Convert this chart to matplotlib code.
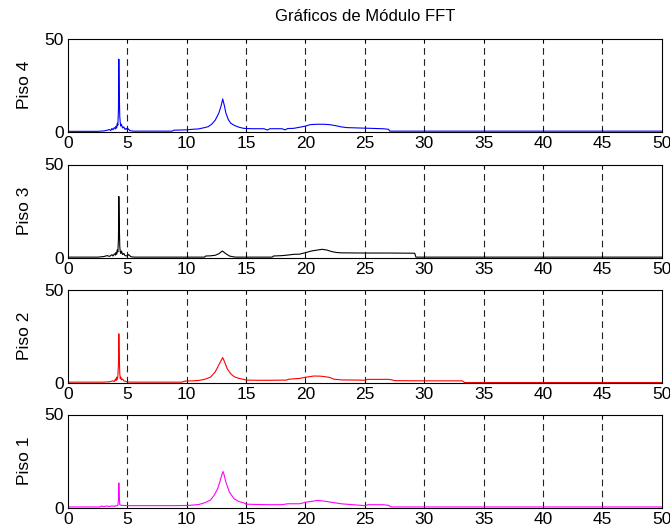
import matplotlib
matplotlib.use("Agg")
import matplotlib.pyplot as plt

plt.rcParams['font.family'] = ['Liberation Sans', 'DejaVu Sans']

title = "Gráficos de Módulo FFT"
labels = ["Piso 4", "Piso 3", "Piso 2", "Piso 1"]
colors = ["#0000ff", "#000000", "#ff0000", "#ff00ff"]
xticks = list(range(0, 51, 5))
yticks = [0, 50]

# Piso 4 (blue)
f4 = [0, 2.5, 3.0, 3.3, 3.5, 3.6, 3.7, 3.8, 3.9, 4.0, 4.05, 4.1, 4.15, 4.2, 4.25, 4.28,
      4.32, 4.36, 4.4, 4.45, 4.5, 4.6, 4.7, 4.8, 4.9, 5.0, 5.1, 5.2, 5.5, 8.8, 8.9, 10.0,
      10.5, 11.0, 11.5, 11.8, 12.1, 12.4, 12.7, 12.9, 13.03, 13.15, 13.3, 13.5, 13.7,
      14.0, 14.4, 14.8, 15.5, 16.5, 16.8, 17.0, 18.0, 18.3, 18.5, 19.0, 19.6, 20.0,
      20.4, 21.0, 21.5, 22.0, 22.5, 23.0, 23.5, 24.5, 25.5, 26.5, 27.0, 27.1, 50]
a4 = [0.2, 0.2, 0.4, 0.8, 1.2, 0.6, 1.8, 1.0, 2.2, 1.5, 3.0, 2.0, 4.5, 3.5, 12.0, 39.0,
      20.0, 8.0, 5.0, 3.0, 4.0, 2.0, 2.6, 1.2, 1.8, 1.0, 1.5, 0.6, 0.3, 0.3, 0.8, 1.0,
      1.3, 1.5, 2.2, 2.7, 4.0, 6.2, 10.0, 14.0, 17.6, 14.5, 10.0, 6.5, 4.6,
      3.4, 2.4, 1.8, 1.6, 1.6, 0.9, 1.6, 1.6, 1.0, 1.7, 1.8, 2.5, 3.0,
      3.8, 4.0, 4.0, 3.8, 3.3, 2.6, 2.2, 2.0, 1.8, 1.6, 1.3, 0.3, 0.3]

# Piso 3 (black)
f3 = [0, 2.5, 3.0, 3.3, 3.5, 3.7, 3.8, 3.9, 4.0, 4.05, 4.1, 4.15, 4.2, 4.25, 4.28,
      4.32, 4.36, 4.4, 4.45, 4.5, 4.6, 4.7, 4.8, 5.0, 5.1, 5.3, 5.6, 11.5, 11.6, 12.0,
      12.4, 12.7, 13.0, 13.3, 13.6, 13.9, 14.1, 17.2, 17.3, 18.0, 18.5, 19.0, 19.5,
      20.0, 20.5, 21.0, 21.4, 21.8, 22.2, 22.6, 23.0, 25.0, 27.0, 29.2, 29.3, 50]
a3 = [0.2, 0.2, 0.5, 1.0, 0.6, 1.5, 0.8, 2.0, 1.3, 2.8, 1.8, 4.0, 3.0, 10.0, 32.8,
      18.0, 6.0, 3.0, 2.2, 3.5, 1.6, 2.2, 1.0, 0.8, 1.6, 0.4, 0.2, 0.2, 0.8, 0.9,
      1.2, 2.0, 3.5, 2.0, 0.8, 0.4, 0.2, 0.2, 0.8, 1.0, 1.3, 1.7, 1.8,
      2.6, 3.5, 4.0, 4.4, 4.0, 3.2, 2.7, 2.5, 2.4, 2.4, 2.3, 0.2, 0.2]

# Piso 2 (red)
f2 = [0, 3.0, 3.5, 3.8, 3.9, 4.0, 4.05, 4.1, 4.15, 4.2, 4.25, 4.28, 4.32, 4.36,
      4.4, 4.45, 4.5, 4.6, 4.7, 4.8, 5.0, 5.2, 9.6, 9.8, 10.0, 10.5, 11.0, 11.5,
      12.0, 12.4, 12.7, 12.9, 13.03, 13.2, 13.4, 13.7, 14.0, 14.4, 14.8, 15.0, 16.0,
      17.0, 18.4, 18.6, 19.5, 20.0, 20.7, 21.3, 22.0, 22.4, 23.0, 24.5, 25.0, 25.2,
      27.0, 27.3, 27.5, 30.0, 33.2, 33.4, 50]
a2 = [0.3, 0.3, 0.5, 1.0, 0.6, 2.0, 1.2, 3.0, 1.8, 3.5, 10.0, 26.3, 14.0, 5.0,
      2.2, 3.0, 1.5, 2.0, 1.0, 0.8, 0.5, 0.3, 0.3, 0.8, 0.9, 1.0, 1.2, 1.8,
      3.0, 5.8, 9.5, 12.0, 13.5, 11.0, 7.6, 4.8, 3.2, 2.3, 1.8, 1.4, 1.3,
      1.3, 1.4, 1.9, 2.3, 2.9, 3.6, 3.5, 2.9, 1.9, 1.5, 1.4, 1.3, 1.8,
      1.8, 1.5, 1.1, 1.0, 1.0, 0.1, 0.1]

# Piso 1 (magenta)
f1 = [0, 2.7, 2.8, 3.0, 3.3, 3.5, 3.7, 3.9, 4.0, 4.1, 4.2, 4.25, 4.28, 4.32, 4.36,
      4.45, 4.6, 5.0, 7.0, 9.0, 10.0, 10.5, 11.0, 11.5, 12.0, 12.3, 12.6, 12.8,
      12.95, 13.05, 13.15, 13.3, 13.6, 14.0, 14.4, 14.8, 15.0, 16.0, 17.0, 18.0,
      18.5, 19.5, 20.0, 20.5, 21.0, 21.5, 22.0, 22.5, 23.0, 24.0, 25.0, 25.3, 26.5,
      27.0, 27.2, 50]
a1 = [0.3, 0.3, 0.8, 0.5, 0.8, 0.5, 0.9, 0.6, 1.0, 0.8, 1.2, 4.0, 13.2, 6.0, 1.5,
      1.2, 1.1, 1.0, 1.0, 1.0, 1.1, 1.3, 1.6, 2.5, 4.0, 6.5, 10.0, 14.0,
      17.5, 19.4, 17.5, 13.6, 8.2, 4.6, 3.2, 2.5, 1.8, 1.6, 1.5, 1.5,
      2.0, 2.0, 2.8, 3.3, 3.8, 3.5, 3.0, 2.5, 2.0, 1.5, 1.0, 1.5, 1.5,
      1.2, 0.3, 0.3]

series_f = [f4, f3, f2, f1]
series_a = [a4, a3, a2, a1]

fig = plt.figure(figsize=(6.70, 5.32), dpi=100)
W, H = 670.0, 532.0
left_px, right_px = 68.0, 661.7
bottoms_px = [131.7, 257.5, 382.7, 507.5]
height_px = 93.0

for i in range(4):
    b = bottoms_px[i]
    ax = fig.add_axes([left_px / W, 1 - b / H, (right_px - left_px) / W, height_px / H])
    ax.plot(series_f[i], series_a[i], color=colors[i], lw=0.8)
    ax.set_xlim(0, 50)
    ax.set_ylim(0, 50)
    ax.set_xticks(xticks)
    ax.set_yticks(yticks)
    ax.tick_params(direction='in', top=True, right=True, length=3, width=0.6,
                   labelsize=12.5)
    ax.tick_params(axis='x', pad=3)
    ax.tick_params(axis='y', pad=3)
    for xv in xticks[1:-1]:
        ax.axvline(xv, color='#222222', lw=0.8, linestyle=(0, (6, 4)), zorder=0)
    ax.set_ylabel(labels[i], fontsize=12.5, labelpad=9)
    for s in ax.spines.values():
        s.set_linewidth(0.8)
    if i == 0:
        ax.set_title(title, fontsize=12, pad=13)

fig.savefig("out.png", dpi=100)
